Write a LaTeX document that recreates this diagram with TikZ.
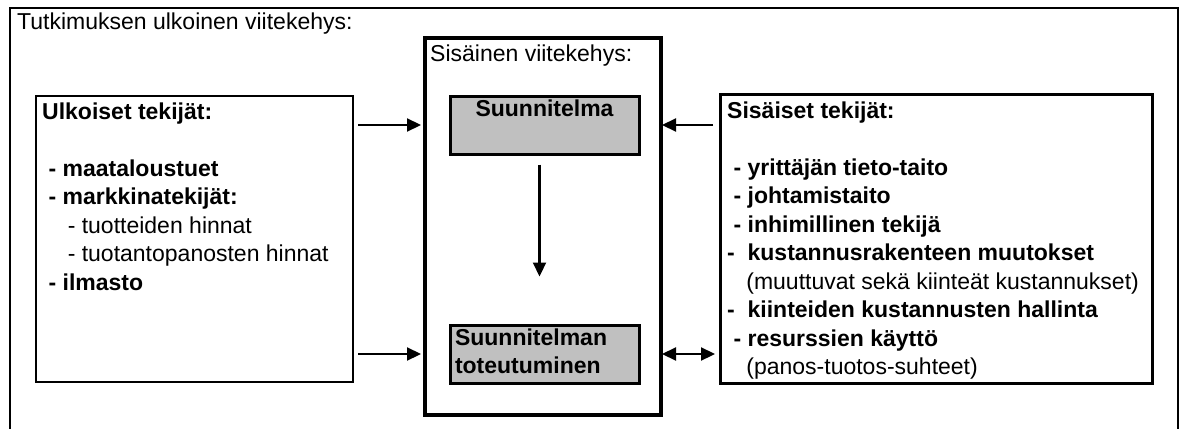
\documentclass[tikz,border=0pt]{standalone}
\usepackage{fontspec}
\setmainfont{Liberation Sans}
\usetikzlibrary{arrows.meta,positioning}
\definecolor{harmaa}{RGB}{192,192,192}
\newcommand{\kohta}{\hspace*{0.278em}-\ }
\newcommand{\alakohta}{\hspace*{1.112em}- }

\begin{document}
\begin{tikzpicture}[x=1pt, y=-1pt,
  kehys/.style={draw, line width=2.5pt, anchor=north west, inner sep=0pt, outer sep=0pt},
  harmaalaatikko/.style={draw, line width=3pt, fill=harmaa, minimum width=189pt,
    minimum height=58pt, inner xsep=5pt, inner ysep=0pt, font=\bfseries},
  teksti/.style={anchor=base west, align=left, inner sep=0pt},
  lista/.style={anchor=north west, align=left, inner sep=0pt},
  nuoli/.style={line width=2.2pt, -{Triangle[length=14pt,width=13pt]}},
  kaksoisnuoli/.style={line width=2.2pt, {Triangle[length=14pt,width=13pt]}-{Triangle[length=14pt,width=13pt]}}]

  \fontsize{23}{28.5}\selectfont

  \useasboundingbox (0,0) rectangle (1185,428);

  %% ulkoinen viitekehys
  \draw[line width=2.7pt] (10,430) |- (1178,8) -- (1178,430);
  \node[teksti] (otsikko) at (17,30) {Tutkimuksen ulkoinen viitekehys:};

  %% laatikot
  \node[kehys, minimum width=317pt, minimum height=286pt] (ulk) at (36,96) {};
  \node[kehys, line width=4pt, minimum width=236pt, minimum height=377pt] (sis) at (425,38) {};
  \node[kehys, line width=3pt, minimum width=432pt, minimum height=289pt] (sisk) at (720,94) {};

  \node[teksti] (sisotsikko) at ([xshift=5pt,yshift=-23pt]sis.north west) {Sisäinen viitekehys:};

  \node[harmaalaatikko, align=center] (suun) at (544.5,125) {\strut Suunnitelma\\\strut};
  \node[harmaalaatikko, align=left, text width=179pt] (tot) at (544.5,354)
    {\strut Suunnitelman\\\strut toteutuminen};

  %% ulkoiset tekijat
  \node[lista] (ulkteksti) at ([xshift=6pt,yshift=-3pt]ulk.north west)
    {\strut\textbf{Ulkoiset tekijät:}\\[28.5pt]
     \textbf{\kohta maataloustuet}\\
     \textbf{\kohta markkinatekijät:}\\
     \alakohta tuotteiden hinnat\\
     \alakohta tuotantopanosten hinnat\\
     \textbf{\kohta ilmasto}};

  %% sisaiset tekijat
  \node[lista] (siskteksti) at ([xshift=7pt,yshift=-4pt]sisk.north west)
    {\strut\textbf{Sisäiset tekijät:}\\[28.5pt]
     \textbf{\kohta yrittäjän tieto-taito}\\
     \textbf{\kohta johtamistaito}\\
     \textbf{\kohta inhimillinen tekijä}\\
     \textbf{-\ \ kustannusrakenteen muutokset}\\
     \hspace*{0.834em}(muuttuvat sekä kiinteät kustannukset)\\
     \textbf{-\ \ kiinteiden kustannusten hallinta}\\
     \textbf{\kohta resurssien käyttö}\\
     \hspace*{0.834em}(panos-tuotos-suhteet)};

  %% nuolet
  \draw[nuoli] ([xshift=5pt]ulk.east |- suun.center) -- ([xshift=-4pt]sis.west |- suun.center); %% ulk->suun
  \draw[nuoli] ([xshift=5pt]ulk.east |- tot.center) -- ([xshift=-4pt]sis.west |- tot.center); %% ulk->tot
  \draw[nuoli] ([xshift=-7pt]sisk.west |- suun.center) -- ([xshift=1pt]sis.east |- suun.center); %% sisk->suun
  \draw[kaksoisnuoli] ([xshift=1pt]sis.east |- tot.center) -- ([xshift=-5pt]sisk.west |- tot.center); %% tot<->sisk
  \draw[nuoli] ([xshift=-5pt,yshift=-9pt]suun.south) -- ([xshift=-5pt,yshift=47pt]tot.north); %% suun->tot

\end{tikzpicture}
\end{document}
